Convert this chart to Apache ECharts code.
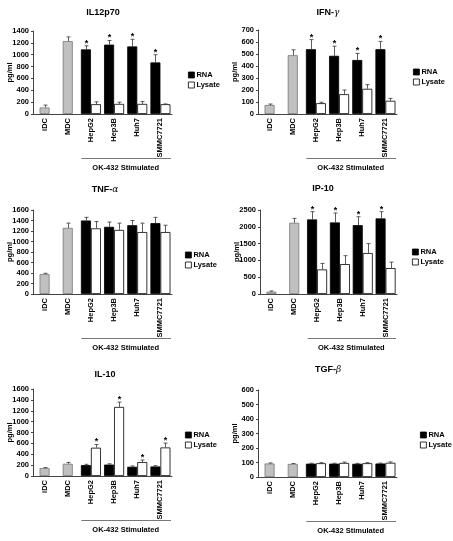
<!DOCTYPE html>
<html>
<head>
<meta charset="utf-8">
<title>OK-432 cytokines</title>
<script src="https://cdn.jsdelivr.net/npm/echarts@6/dist/echarts.min.js"></script>
<style>
    html, body { margin: 0; padding: 0; background: #fff; }
    #chart { width: 453px; height: 541px; }
</style>
</head>
<body>
<div id="chart"></div>
<script>
// x categories (iDC, MDC are the grey controls)
var categories = ['iDC', 'MDC', 'HepG2', 'Hep3B', 'Huh7', 'SMMC7721'];
var panelNames = ['IL12p70', 'IFN-', 'TNF-', 'IP-10', 'IL-10', 'TGF-'];
var greekLetters = ['', 'γ', 'α', '', '', 'β'];
var yMax = [1400, 700, 1600, 2500, 1600, 600];
var yStep = [200, 100, 200, 500, 200, 100];

// iDC, MDC
var ctrlMean = [[110, 1230], [75, 490], [380, 1260], [70, 2120], [145, 225], [93, 90]];
var ctrlErr = [[40, 70], [8, 45], [15, 90], [20, 130], [10, 25], [4, 3]];
// HepG2, Hep3B, Huh7, SMMC7721
var rnaMean = [[1090, 1170, 1140, 870], [540, 485, 450, 540], [1400, 1280, 1310, 1350],
               [2220, 2130, 2050, 2250], [200, 210, 170, 175], [92, 92, 91, 93]];
var rnaErr = [[60, 70, 120, 130], [80, 80, 55, 65], [60, 90, 90, 110],
              [230, 280, 250, 200], [15, 15, 15, 15], [3, 3, 3, 3]];
var lysMean = [[165, 170, 170, 165], [90, 165, 210, 110], [1250, 1220, 1180, 1180],
               [730, 890, 1220, 770], [520, 1270, 255, 525], [95, 97, 95, 98]];
var lysErr = [[40, 30, 40, 5], [8, 35, 35, 20], [130, 130, 170, 130],
              [180, 250, 280, 180], [60, 90, 40, 80], [4, 6, 4, 6]];
var rnaStar = [1, 1, 0, 1, 0, 0];
var lysStar = [0, 0, 0, 0, 1, 0];

// layout: grid [left, top, width, height], title centre, legend corner
var gridBox = [[33, 31, 139, 83], [258, 30, 139, 84], [33, 210, 139, 84],
               [260, 210, 137, 84], [33, 389, 139, 87], [258, 390, 139, 87]];
var titlePos = [[103, 13], [328, 13], [105, 190], [323, 189], [105, 375], [328, 370]];
var legendPos = [[183, 66], [408, 63], [180, 246], [407, 243], [180, 426], [415, 426]];

var FONT = 'Liberation Sans';
var chart = echarts.init(document.getElementById('chart'));

function renderError(params, api) {
    var idx = api.value(0);
    var mean = api.value(1);
    var p0 = api.coord([idx, mean]);
    var p1 = api.coord([idx, mean + api.value(2)]);
    var x = Math.round(p0[0] + api.value(3)) + 0.5;
    var kids = [
        { type: 'line', shape: { x1: x, y1: p0[1], x2: x, y2: p1[1] }, style: { stroke: '#333', lineWidth: 0.8 } },
        { type: 'line', shape: { x1: x - 2, y1: p1[1], x2: x + 2, y2: p1[1] }, style: { stroke: '#333', lineWidth: 0.8 } }
    ];
    if (api.value(4)) {
        kids.push({ type: 'text', style: { text: '*', x: x, y: p1[1] + 2, align: 'center', verticalAlign: 'bottom',
            font: 'bold 9px ' + FONT, fill: '#000' } });
    }
    return { type: 'group', children: kids };
}

var grids = [], xAxes = [], yAxes = [], series = [], legends = [], graphics = [];
for (var i = 0; i < 6; i++) {
    var g = gridBox[i];
    grids.push({ left: g[0], top: g[1], width: g[2], height: g[3], outerBoundsMode: 'none' });
    xAxes.push({
        type: 'category', gridIndex: i, data: categories,
        axisLine: { lineStyle: { color: '#444', width: 1 } },
        axisTick: { show: false },
        axisLabel: { rotate: 90, interval: 0, margin: 4, color: '#000', fontFamily: FONT, fontSize: 7.5, fontWeight: 'bold' }
    });
    xAxes.push({ type: 'category', gridIndex: i, data: categories, show: false });
    yAxes.push({
        type: 'value', gridIndex: i, min: 0, max: yMax[i], interval: yStep[i],
        name: 'pg/ml', nameLocation: 'middle', nameGap: 19, nameRotate: 90, nameMoveOverlap: false,
        nameTextStyle: { color: '#000', fontFamily: FONT, fontSize: 7.5, fontWeight: 'bold' },
        axisLine: { show: true, lineStyle: { color: '#444', width: 1 } },
        axisTick: { show: true, length: 2, lineStyle: { color: '#444' } },
        splitLine: { show: false },
        axisLabel: { margin: 4, color: '#000', fontFamily: FONT, fontSize: 7.5, fontWeight: 'bold',
            formatter: function (v) { return String(v); } }
    });

    var grey = [ctrlMean[i][0], ctrlMean[i][1], '-', '-', '-', '-'];
    var rna = ['-', '-'].concat(rnaMean[i]);
    var lys = ['-', '-'].concat(lysMean[i]);
    series.push({ type: 'bar', name: 'Control', xAxisIndex: 2 * i + 1, yAxisIndex: i, data: grey, barWidth: 10,
        itemStyle: { color: '#c0c0c0', borderColor: '#777', borderWidth: 0.8 }, silent: true });
    series.push({ type: 'bar', name: 'RNA', xAxisIndex: 2 * i, yAxisIndex: i, data: rna, barWidth: 10, barGap: 0,
        itemStyle: { color: '#000', borderColor: '#000', borderWidth: 0.8 } });
    series.push({ type: 'bar', name: 'Lysate', xAxisIndex: 2 * i, yAxisIndex: i, data: lys, barWidth: 10, barGap: 0,
        itemStyle: { color: '#fff', borderColor: '#000', borderWidth: 0.8 } });

    var errData = [[0, ctrlMean[i][0], ctrlErr[i][0], 0, 0], [1, ctrlMean[i][1], ctrlErr[i][1], 0, 0]];
    for (var k = 0; k < 4; k++) {
        errData.push([k + 2, rnaMean[i][k], rnaErr[i][k], -5, rnaStar[i]]);
        errData.push([k + 2, lysMean[i][k], lysErr[i][k], 5, lysStar[i]]);
    }
    series.push({ type: 'custom', xAxisIndex: 2 * i, yAxisIndex: i, data: errData, renderItem: renderError, z: 5, silent: true });

    legends.push({
        left: legendPos[i][0], top: legendPos[i][1], orient: 'vertical', itemGap: 2,
        itemWidth: 6, itemHeight: 6, icon: 'rect', data: ['RNA', 'Lysate'], selectedMode: false,
        itemStyle: { borderWidth: 0.8 },
        textStyle: { color: '#000', fontFamily: FONT, fontSize: 7.5, fontWeight: 'bold', padding: [0, 0, 0, -3] }
    });

    graphics.push({
        type: 'text', x: titlePos[i][0], y: titlePos[i][1],
        style: {
            text: panelNames[i] + (greekLetters[i] ? '{g|' + greekLetters[i] + '}' : ''),
            align: 'center', verticalAlign: 'middle', font: 'bold 9px ' + FONT, fill: '#000',
            rich: { g: { fontStyle: 'italic', fontFamily: 'DejaVu Serif', fontSize: 9, fill: '#000' } }
        }
    });
}

chart.setOption({
    animation: false,
    grid: grids, xAxis: xAxes, yAxis: yAxes, legend: legends, series: series, graphic: graphics
});

// bracket under the stimulated groups
for (var j = 0; j < 6; j++) {
    var xa = chart.convertToPixel({ xAxisIndex: 2 * j }, 'HepG2');
    var xb = chart.convertToPixel({ xAxisIndex: 2 * j }, 'SMMC7721');
    var half = gridBox[j][2] / categories.length / 2;
    var yLine = gridBox[j][1] + gridBox[j][3] + 44;
    graphics.push({ type: 'line', shape: { x1: xa - half + 2, y1: yLine + 0.5, x2: xb + half - 1, y2: yLine + 0.5 },
        style: { stroke: '#555', lineWidth: 0.8 } });
    graphics.push({ type: 'text', x: (xa + xb) / 2, y: yLine + 10,
        style: { text: 'OK-432 Stimulated', align: 'center', verticalAlign: 'middle', font: 'bold 7.5px ' + FONT, fill: '#000' } });
}
chart.setOption({ graphic: graphics });
</script>
</body>
</html>
